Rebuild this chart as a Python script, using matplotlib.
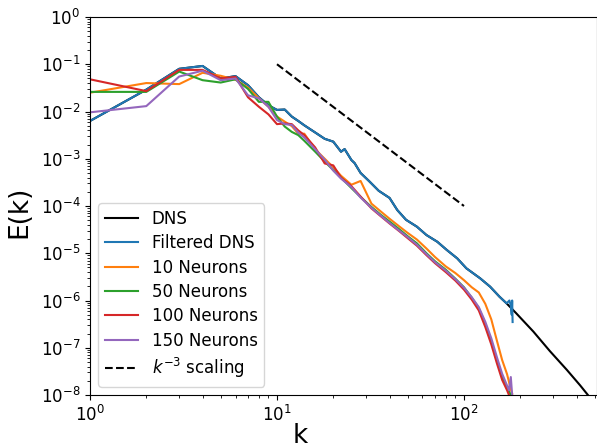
import matplotlib
matplotlib.use('Agg')
import matplotlib.pyplot as plt
import numpy as np

# low wavenumbers, shared by every curve
k_low = [1, 2, 3, 4, 5, 6, 7, 8, 9, 10, 11, 12]

# Filtered DNS (blue)
filt_k_high = [13, 14, 16, 18, 20, 22, 23, 25, 26, 28, 31, 35, 40, 44, 49, 56,
               63, 72, 81, 92, 103, 122, 138, 155, 169, 175, 178, 180, 181, 182]
filt_E_low = [6.3e-3, 2.9e-2, 8.0e-2, 9.2e-2, 5.0e-2, 5.6e-2, 3.6e-2, 2.0e-2,
              1.35e-2, 1.08e-2, 1.1e-2, 7.8e-3]
filt_E_high = [6.3e-3, 5.1e-3, 3.6e-3, 2.64e-3, 2.3e-3, 1.41e-3, 1.6e-3, 9.4e-4,
               8.1e-4, 5.0e-4, 3.4e-4, 2.1e-4, 1.48e-4, 8.2e-5, 5.1e-5, 3.65e-5,
               2.43e-5, 1.75e-5, 1.17e-5, 7.8e-6, 4.8e-6, 2.95e-6, 1.96e-6,
               1.2e-6, 8.7e-7, 1.0e-6, 7.8e-7, 5.0e-7, 1.0e-6, 3.5e-7]

# DNS tail beyond the filter cutoff (below it DNS equals filtered DNS)
dns_k_tail = [190, 235, 288, 355, 418, 460, 512]
dns_E_tail = [5.4e-7, 2.2e-7, 8.5e-8, 3.4e-8, 1.6e-8, 1.0e-8, 5.0e-9]

# neural network models
k_model = [13, 14, 16, 18, 20, 22, 25, 28, 32, 36, 40, 45, 50, 56, 63, 70, 80,
           90, 100, 110, 120, 130, 140, 150, 160, 170, 174, 178, 181]

n10_low = [2.5e-2, 4.0e-2, 3.8e-2, 6.6e-2, 5.7e-2, 4.7e-2, 3.2e-2, 1.9e-2,
           1.26e-2, 7.8e-3, 6.1e-3, 4.9e-3]
n10_logE = [-2.47, -2.47, -2.80, -3.00, -3.18, -3.36, -3.55, -3.47, -3.95, -4.12,
            -4.27, -4.43, -4.57, -4.71, -4.90, -5.08, -5.28, -5.42, -5.57, -5.72,
            -5.83, -6.07, -6.40, -6.85, -7.26, -7.56, -7.72, -7.88, -7.97]

n50_low = [2.6e-2, 2.6e-2, 7.0e-2, 4.6e-2, 4.1e-2, 4.8e-2, 3.0e-2, 1.6e-2,
           1.6e-2, 7.8e-3, 4.8e-3, 3.7e-3]
n50_logE = [-2.50, -2.62, -2.85, -3.06, -3.24, -3.40, -3.62, -3.81, -4.02, -4.19,
            -4.33, -4.49, -4.64, -4.79, -5.00, -5.17, -5.35, -5.54, -5.72, -5.94,
            -6.16, -6.50, -6.86, -7.27, -7.61, -7.84, -7.92, -8.00, -8.10]

n100_low = [4.8e-2, 2.7e-2, 7.6e-2, 7.6e-2, 5.0e-2, 5.4e-2, 2.0e-2, 1.26e-2,
            8.7e-3, 5.4e-3, 5.6e-3, 5.4e-3]
n100_logE = [-2.40, -2.50, -2.76, -3.10, -3.14, -3.40, -3.58, -3.80, -4.05, -4.22,
             -4.37, -4.53, -4.68, -4.84, -5.04, -5.21, -5.40, -5.58, -5.77, -5.98,
             -6.21, -6.56, -6.93, -7.33, -7.68, -7.90, -8.00, -8.15, -8.30]

n150_low = [9.6e-3, 1.3e-2, 5.5e-2, 7.3e-2, 4.6e-2, 5.0e-2, 2.2e-2, 1.9e-2,
            1.26e-2, 6.6e-3, 5.4e-3, 5.2e-3]
n150_logE = [-2.45, -2.55, -2.80, -3.02, -3.25, -3.42, -3.60, -3.82, -4.04, -4.21,
             -4.36, -4.52, -4.66, -4.82, -5.02, -5.19, -5.37, -5.55, -5.73, -5.93,
             -6.14, -6.45, -6.80, -7.20, -7.55, -7.80, -7.90, -7.62, -8.00]

# k^-3 reference
scaling_k = [10, 100]
scaling_E = [1e-1, 1e-4]

labels = ['10 Neurons', '50 Neurons', '100 Neurons', '150 Neurons']
colors = ['C1', 'C2', 'C3', 'C4']

fig = plt.figure(figsize=(5.97, 4.45), dpi=100)
ax = fig.add_axes([90 / 597, 50 / 445, 506.6 / 597, 378 / 445])

filt_k = k_low + filt_k_high
filt_E = filt_E_low + filt_E_high
n_cut = filt_k.index(169) + 1
dns_k = filt_k[:n_cut] + dns_k_tail
dns_E = filt_E[:n_cut] + dns_E_tail

ax.loglog(dns_k, dns_E, color='k', lw=1.5, label='DNS')
ax.loglog(filt_k, filt_E, color='C0', lw=1.5, label='Filtered DNS')
for low, logE, lab, col in zip([n10_low, n50_low, n100_low, n150_low],
                               [n10_logE, n50_logE, n100_logE, n150_logE],
                               labels, colors):
    E = low + list(10.0 ** np.array(logE))
    ax.loglog(k_low + k_model, E, color=col, lw=1.5, label=lab)
ax.loglog(scaling_k, scaling_E, 'k--', lw=1.5, label=r'$k^{-3}$ scaling')

ax.set_xlim(1, 512)
ax.set_ylim(1e-8, 1)
ax.tick_params(labelsize=12)
ax.set_xlabel('k', fontsize=19)
ax.set_ylabel('E(k)', fontsize=19)
ax.xaxis.set_label_coords(0.4145, -0.075)
ax.yaxis.set_label_coords(-0.113, 0.4854)
ax.legend(loc='lower left', fontsize=12, labelspacing=0.38)

fig.savefig('out.png', dpi=100)
